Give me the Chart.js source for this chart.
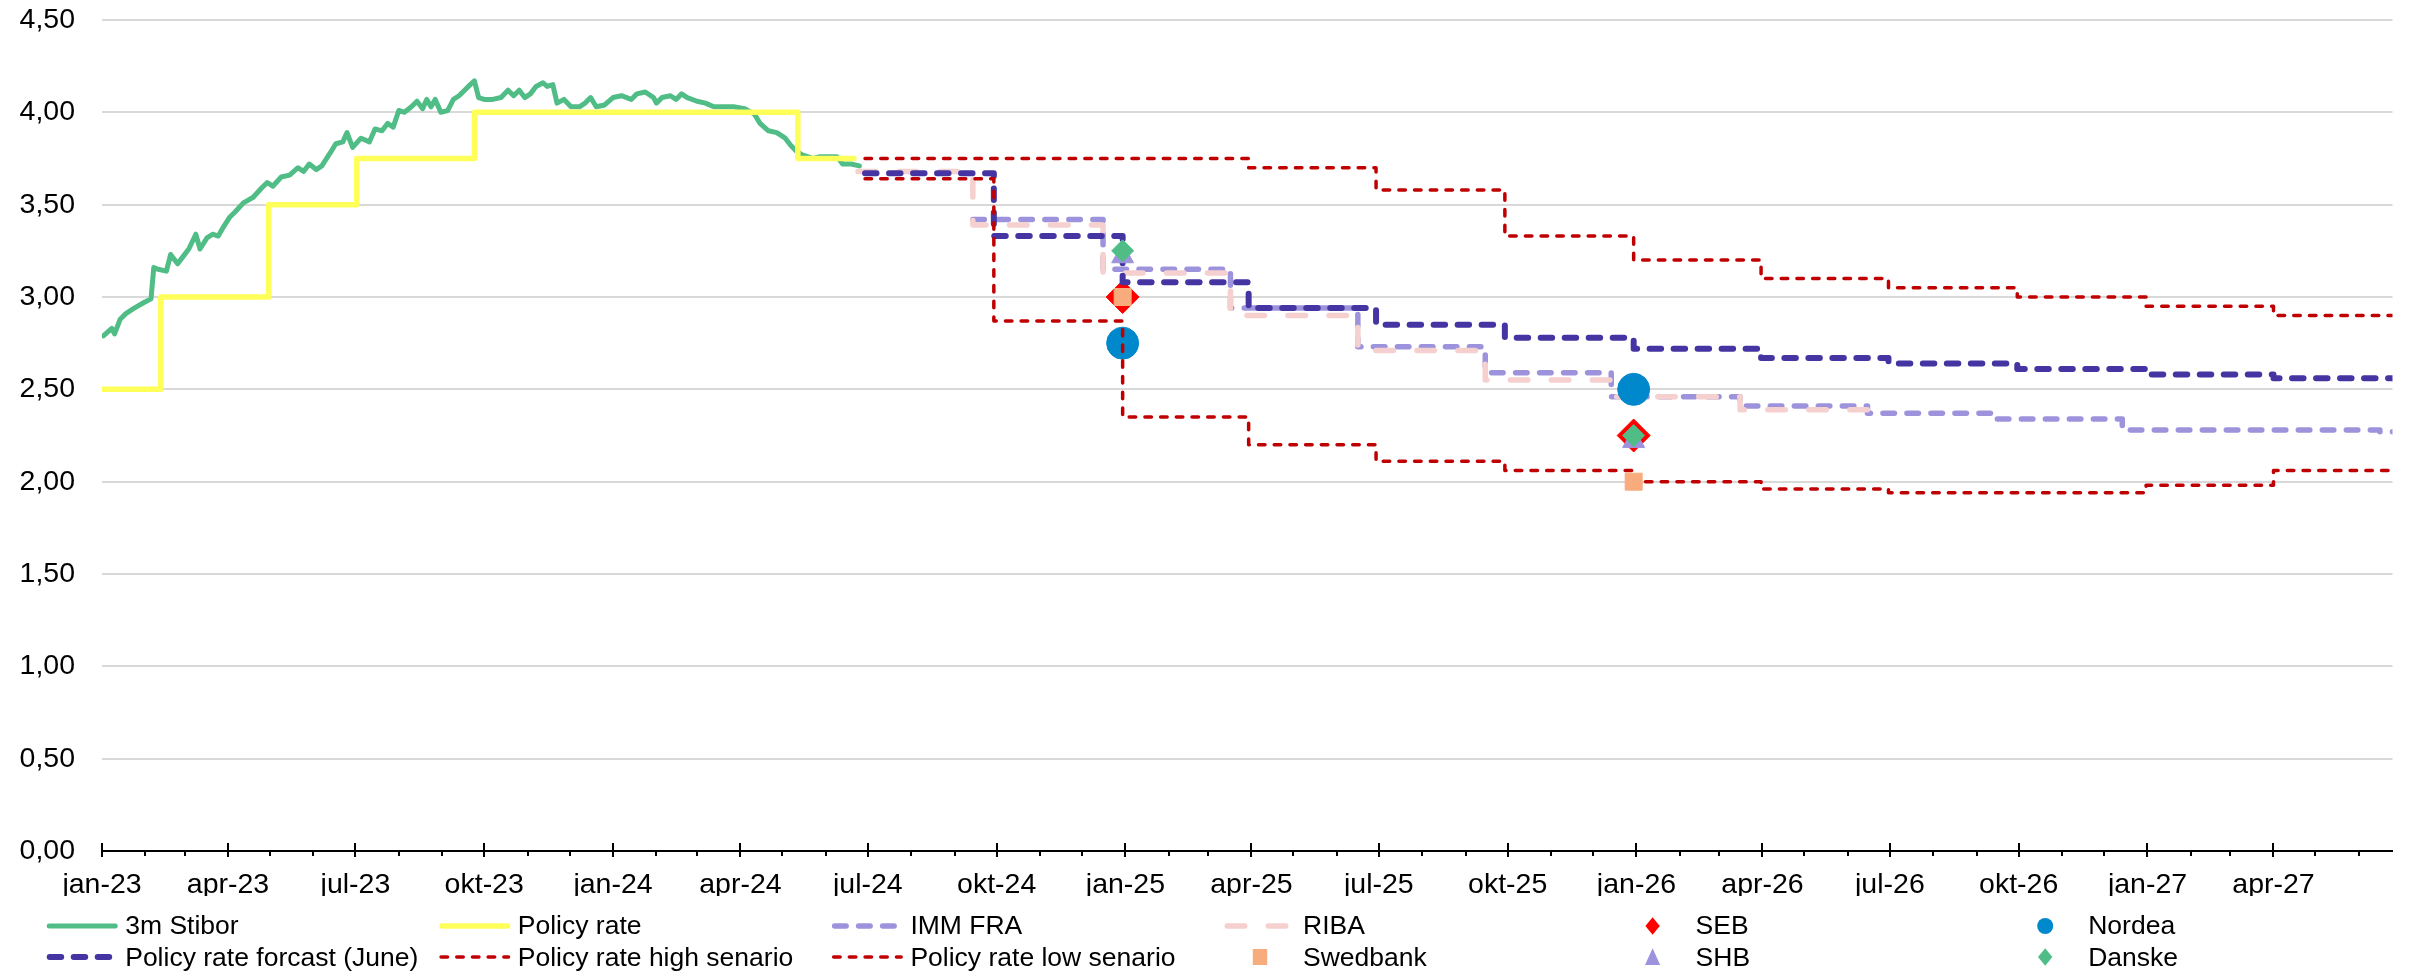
<!DOCTYPE html>
<html>
<head>
<meta charset="utf-8">
<script src="https://cdn.jsdelivr.net/npm/chart.js@4.4.1/dist/chart.umd.min.js"></script>
<style>
  html, body { margin: 0; padding: 0; background: #ffffff; }
  #wrap { width: 2410px; height: 972px; }
</style>
</head>
<body>
<div id="wrap"><canvas id="c" width="2410" height="972"></canvas></div>
<script>
// x values are days counted from 1 Jan 2023
const tickLabels = ['jan-23','apr-23','jul-23','okt-23','jan-24','apr-24','jul-24','okt-24',
                    'jan-25','apr-25','jul-25','okt-25','jan-26','apr-26','jul-26','okt-26','jan-27','apr-27'];
const X_MAX = 1636;

// 3m Stibor
const stiborDay = [1,7,9,13,17,23,30,35,37,40,46,49,54,58,62,67,70,75,79,83,86,91,95,101,108,114,118,122,128,134,
  140,144,148,153,157,163,167,172,175,179,185,191,195,200,204,208,212,216,221,225,229,232,235,238,242,247,251,255,259,263,
  266,269,273,279,285,290,294,298,302,306,310,315,318,322,325,330,335,341,345,349,353,359,365,371,378,382,388,394,396,400,
  406,410,414,418,425,431,437,443,451,459,466,470,476,482,488,492,496,500,504,508,513,519,525,529,535,541];
const stiborRate = [2.79,2.83,2.80,2.88,2.91,2.94,2.97,2.99,3.16,3.15,3.14,3.23,3.18,3.22,3.26,3.34,3.26,3.32,3.34,3.33,3.37,3.43,3.46,3.51,3.54,3.59,3.62,3.60,3.65,3.66,
  3.70,3.68,3.72,3.69,3.71,3.78,3.83,3.84,3.89,3.81,3.86,3.84,3.91,3.90,3.94,3.92,4.01,4.00,4.03,4.06,4.02,4.07,4.03,4.07,4.00,4.01,4.07,4.09,4.12,4.15,
  4.17,4.08,4.07,4.07,4.08,4.12,4.09,4.12,4.08,4.10,4.14,4.16,4.14,4.15,4.05,4.07,4.03,4.03,4.05,4.08,4.03,4.04,4.08,4.09,4.07,4.10,4.11,4.08,4.05,4.08,
  4.09,4.07,4.10,4.08,4.06,4.05,4.03,4.03,4.03,4.02,3.99,3.94,3.90,3.89,3.86,3.82,3.79,3.77,3.76,3.75,3.76,3.76,3.76,3.72,3.72,3.71];

// Policy rate
const policyDay  = [0, 42, 119, 182, 266, 497, 537];
const policyRate = [2.50, 3.00, 3.50, 3.75, 4.00, 3.75, 3.75];

// IMM FRA
const immDay  = [622, 715, 806, 897, 988, 1078, 1170, 1261, 1352, 1443, 1627, 1636];
const immRate = [3.42, 3.15, 2.94, 2.73, 2.59, 2.46, 2.41, 2.37, 2.34, 2.28, 2.27, 2.27];

// RIBA
const ribaDay  = [540, 622, 715, 806, 897, 988, 1078, 1170, 1261];
const ribaRate = [3.68, 3.39, 3.13, 2.90, 2.71, 2.55, 2.46, 2.39, 2.39];

// Policy rate forecast (June)
const forecastDay  = [545, 637, 729, 819, 910, 1002, 1094, 1185, 1276, 1368, 1460, 1551, 1636];
const forecastRate = [3.67, 3.33, 3.08, 2.94, 2.85, 2.78, 2.72, 2.67, 2.64, 2.61, 2.58, 2.56, 2.56];

// High / low scenarios
const highDay  = [545, 819, 910, 1002, 1094, 1185, 1276, 1368, 1460, 1551, 1636];
const highRate = [3.75, 3.70, 3.58, 3.33, 3.20, 3.10, 3.05, 3.00, 2.95, 2.90, 2.90];
const lowDay   = [545, 637, 729, 819, 910, 1002, 1094, 1185, 1276, 1460, 1551, 1636];
const lowRate  = [3.64, 2.87, 2.35, 2.20, 2.11, 2.06, 2.00, 1.96, 1.94, 1.98, 2.06, 2.06];

// Bank forecasts at year ends
const bankDay      = [729, 1094];
const sebRate      = [3.00, 2.25];
const nordeaRate   = [2.75, 2.50];
const swedbankRate = [3.00, 2.00];
const shbRate      = [3.22, 2.22];
const danskeRate   = [3.25, 2.25];

const FONT = "'Liberation Sans', Arial, Helvetica, sans-serif";
const MONTHS = { jan: 0, apr: 3, jul: 6, okt: 9 };
const DAY0 = Date.UTC(2023, 0, 1);
const dayOf = (y, m) => Math.round((Date.UTC(y, m, 1) - DAY0) / 86400000);
const tickDays = tickLabels.map(l => { const [m, y] = l.split('-'); return dayOf(2000 + Number(y), MONTHS[m]); });
const monthDays = [];
for (let y = 2023; y <= 2027; y++) for (let m = 0; m < 12; m++) { const d = dayOf(y, m); if (d <= X_MAX) monthDays.push(d); }
const quarterSet = new Set(tickDays);

const xy = (xs, ys) => xs.map((x, i) => ({ x, y: ys[i] }));

const C = {
  green: '#50bd87', yellow: '#ffff59', lilac: '#9d93dc', pink: '#f5d0ce',
  navy: '#4535a3', red: '#c00000', seb: '#ff0000', nordea: '#0088cc', swed: '#f8ab7c'
};

const stepLine = (label, xs, ys, color, width, dash) => ({
  label, data: xy(xs, ys), borderColor: color, backgroundColor: color, borderWidth: width,
  borderDash: dash, borderCapStyle: 'round', borderJoinStyle: 'round', stepped: true,
  pointRadius: 0, pointHoverRadius: 0, fill: false
});
const marker = (label, ys, style, radius, fillColor, edgeColor) => ({
  label, data: xy(bankDay, ys), showLine: false, pointStyle: style, pointRadius: radius,
  pointHoverRadius: radius, pointBackgroundColor: fillColor, pointBorderColor: edgeColor,
  pointBorderWidth: 1, borderColor: fillColor, backgroundColor: fillColor
});

const datasets = [
  { label: '3m Stibor', data: xy(stiborDay, stiborRate), borderColor: C.green, backgroundColor: C.green,
    borderWidth: 5, borderCapStyle: 'round', borderJoinStyle: 'round', pointRadius: 0, pointHoverRadius: 0, tension: 0 },
  stepLine('Policy rate', policyDay, policyRate, C.yellow, 5.5, []),
  stepLine('IMM FRA', immDay, immRate, C.lilac, 5.5, [11.5, 12.5]),
  stepLine('RIBA', ribaDay, ribaRate, C.pink, 5.5, [17.5, 23.5]),
  marker('SEB', sebRate, 'rectRot', 16.5, C.seb, C.seb),
  marker('Nordea', nordeaRate, 'circle', 16, C.nordea, C.nordea),
  stepLine('Policy rate forcast (June)', forecastDay, forecastRate, C.navy, 6, [11.5, 12.5]),
  stepLine('Policy rate high senario', highDay, highRate, C.red, 3.5, [6.5, 9.2]),
  stepLine('Policy rate low senario', lowDay, lowRate, C.red, 3.5, [6.5, 9.2]),
  marker('Swedbank', swedbankRate, 'rect', 12, C.swed, C.swed),
  marker('SHB', shbRate, 'triangle', 12.7, C.lilac, C.lilac),
  marker('Danske', danskeRate, 'rectRot', 11, C.green, C.green)
];
// later series are painted on top
datasets.forEach((d, i) => { d.order = -i; });

function drawMarker(ctx, style, x, y, r, fill) {
  ctx.save();
  ctx.fillStyle = fill;
  ctx.beginPath();
  if (style === 'circle') ctx.arc(x, y, r, 0, Math.PI * 2);
  else if (style === 'rectRot') { ctx.moveTo(x, y - r * 1.1); ctx.lineTo(x + r * 0.9, y); ctx.lineTo(x, y + r * 1.1); ctx.lineTo(x - r * 0.9, y); }
  else if (style === 'rect') ctx.rect(x - r * 0.9, y - r, r * 1.8, r * 2);
  else if (style === 'triangle') { ctx.moveTo(x, y - r * 1.1); ctx.lineTo(x + r * 0.95, y + r); ctx.lineTo(x - r * 0.95, y + r); }
  ctx.closePath();
  ctx.fill();
  ctx.restore();
}

// month tick marks along the time axis: long ones at quarter starts
const tickMarks = {
  id: 'tickMarks',
  afterDraw(chart) {
    const { ctx } = chart;
    const x = chart.scales.x;
    const base = x.top;
    ctx.save();
    ctx.strokeStyle = '#000000';
    ctx.lineWidth = 2;
    monthDays.forEach(d => {
      const px = Math.round(x.getPixelForValue(d));
      const major = quarterSet.has(d);
      ctx.beginPath();
      ctx.moveTo(px, major ? base - 8 : base);
      ctx.lineTo(px, base + (major ? 6 : 5));
      ctx.stroke();
    });
    ctx.restore();
  }
};

// six-column legend under the axis
const legendGrid = {
  id: 'legendGrid',
  afterDraw(chart) {
    const { ctx } = chart;
    const list = chart.data.datasets;
    ctx.save();
    ctx.font = '26.5px ' + FONT;
    ctx.textBaseline = 'alphabetic';
    ctx.textAlign = 'left';
    list.forEach((d, i) => {
      const col = i % 6, row = Math.floor(i / 6);
      const x0 = 46.7 + col * 392.6;
      const yLine = row ? 957 : 926;
      const yText = row ? 965.5 : 933.5;
      if (d.showLine === false) {
        drawMarker(ctx, d.pointStyle, x0 + 35.5, yLine, 8, d.pointBackgroundColor);
      } else {
        ctx.save();
        ctx.strokeStyle = d.borderColor;
        ctx.lineWidth = d.borderWidth;
        ctx.lineCap = 'round';
        ctx.setLineDash(d.borderDash || []);
        ctx.beginPath();
        ctx.moveTo(x0 + d.borderWidth / 2, yLine);
        ctx.lineTo(x0 + 71 - d.borderWidth / 2, yLine);
        ctx.stroke();
        ctx.restore();
      }
      ctx.fillStyle = '#000000';
      ctx.fillText(d.label, x0 + 78.5, yText);
    });
    ctx.restore();
  }
};

new Chart(document.getElementById('c'), {
  type: 'line',
  data: { datasets },
  options: {
    responsive: false,
    animation: false,
    devicePixelRatio: 1,
    events: [],
    layout: { padding: { top: 20, right: 13, bottom: 76, left: 0 } },
    plugins: { legend: { display: false }, tooltip: { enabled: false } },
    scales: {
      x: {
        type: 'linear', min: 0, max: X_MAX,
        afterBuildTicks: s => { s.ticks = tickDays.map(v => ({ value: v })); },
        afterFit: s => { s.height = 45; },
        ticks: {
          autoSkip: false, maxRotation: 0, minRotation: 0, padding: 17, color: '#000000',
          font: { family: FONT, size: 28.5 },
          callback: (v, i) => tickLabels[i]
        },
        grid: { display: true, drawOnChartArea: false, drawTicks: false },
        border: { display: true, color: '#000000', width: 2 }
      },
      y: {
        min: 0, max: 4.5,
        afterFit: s => { s.width = 102; s.paddingTop = 0; s.paddingBottom = 0; },
        ticks: {
          stepSize: 0.5, padding: 27, color: '#000000',
          font: { family: FONT, size: 28.5 },
          callback: v => Number(v).toFixed(2).replace('.', ',')
        },
        grid: { color: c => (c.tick && c.tick.value === 0) ? 'rgba(0,0,0,0)' : '#d9d9d9', lineWidth: 2, drawTicks: false },
        border: { display: false }
      }
    }
  },
  plugins: [tickMarks, legendGrid]
});
</script>
</body>
</html>
